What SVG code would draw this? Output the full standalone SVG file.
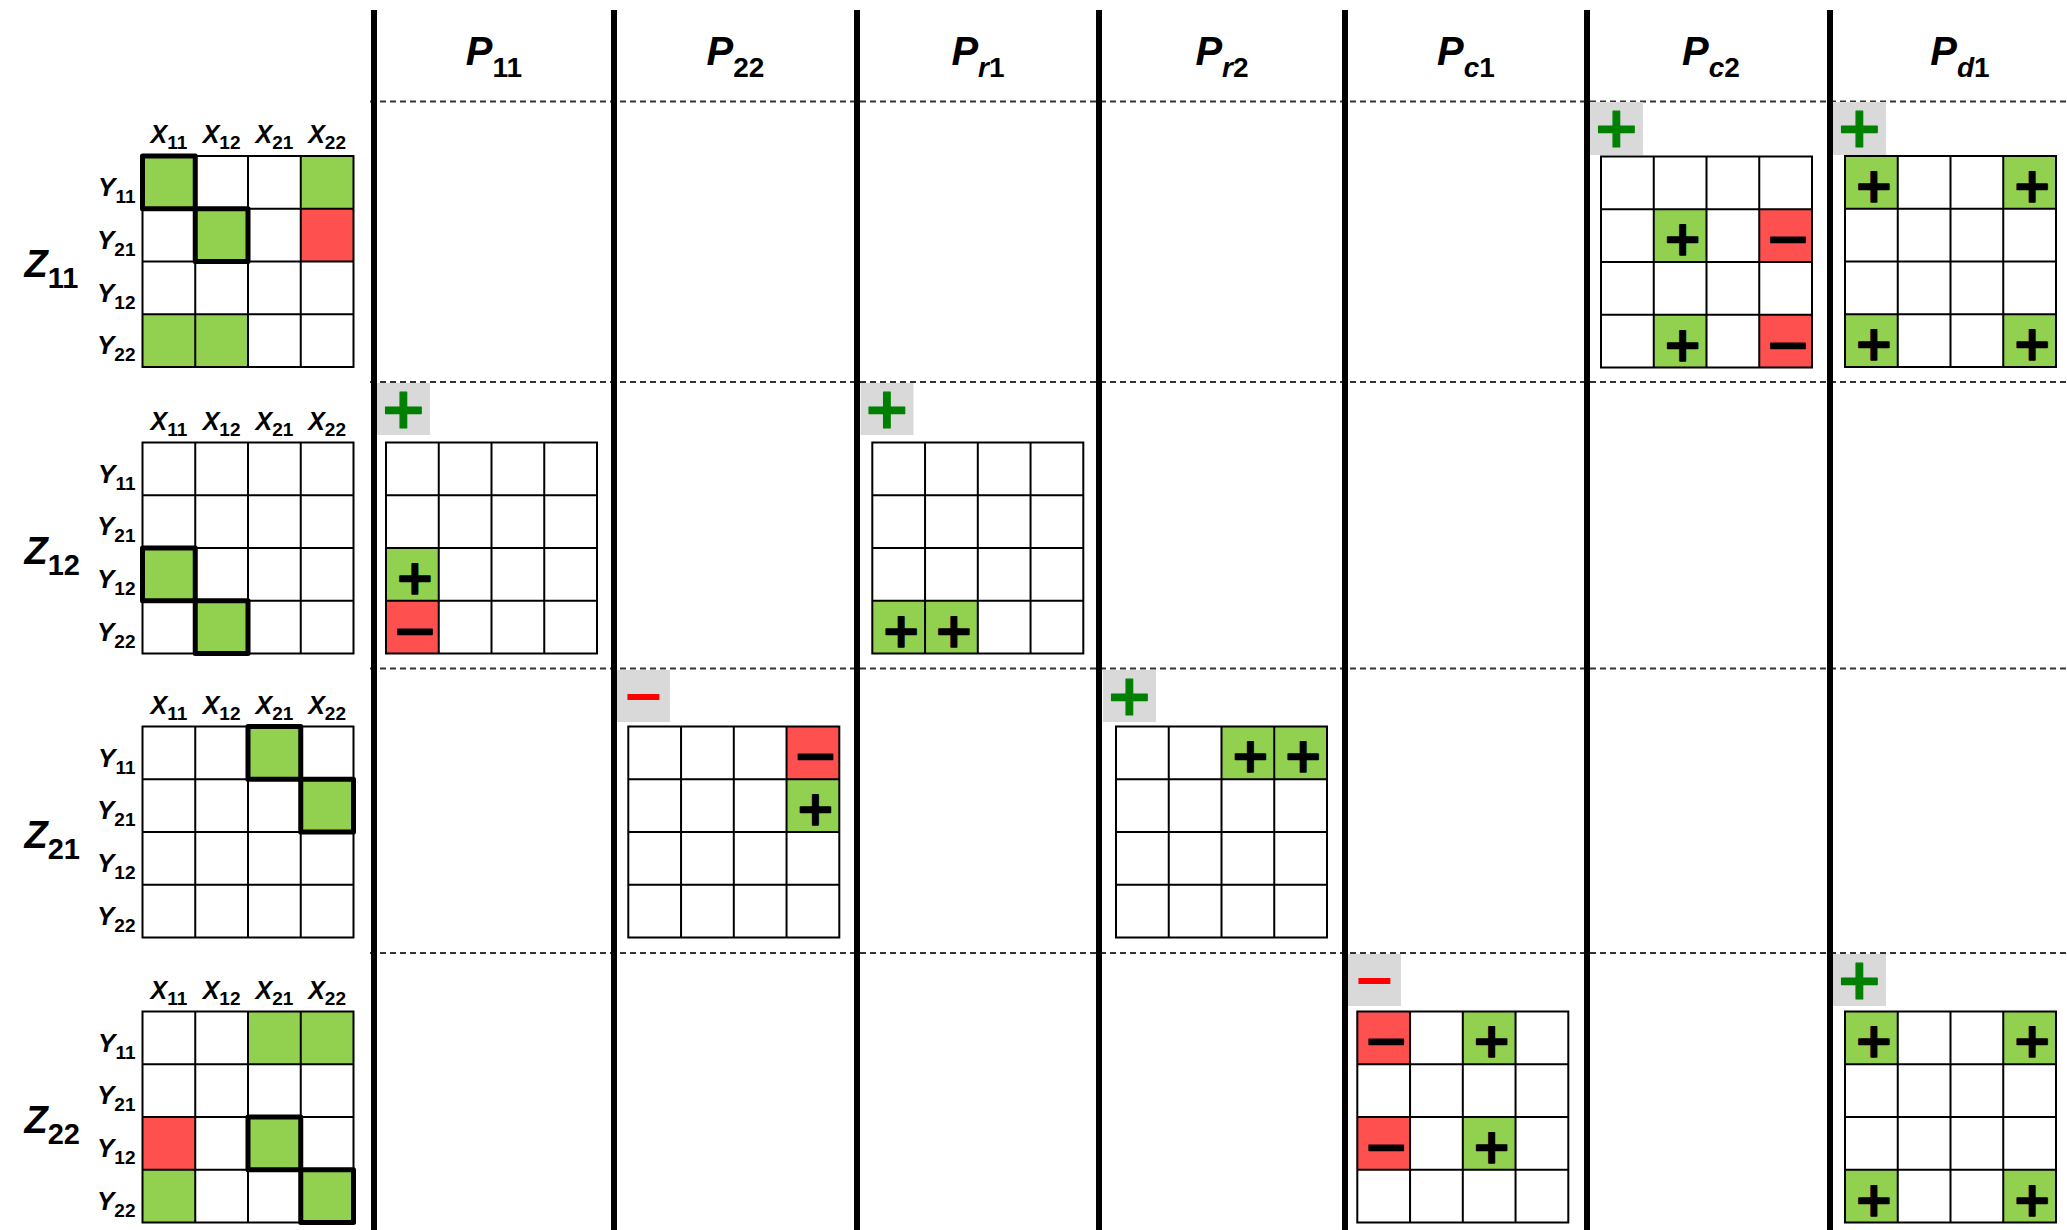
<svg xmlns="http://www.w3.org/2000/svg" xmlns:xlink="http://www.w3.org/1999/xlink" width="2067" height="1230" viewBox="0 0 2067 1230">
<style>
.vl{stroke:#000;stroke-width:6}
.dl{stroke:#333;stroke-width:2;stroke-dasharray:6 4}
.g{fill:#92D050}
.r{fill:#FF5050}
.hi{fill:none;stroke:#000;stroke-width:5;stroke-linejoin:round}
.gl{fill:none;stroke:#000;stroke-width:2}
.tag{fill:#D9D9D9}
text{font-family:'Liberation Sans',Arial,sans-serif;font-weight:bold}
.hd{font-size:40px;font-style:italic;text-anchor:middle}
.sb{font-style:normal;font-size:28px}
.it{font-style:italic}
.zl{font-size:38px;font-style:italic}
.zs{font-size:29px;font-style:normal}
.ax{font-size:25px;font-style:italic;text-anchor:middle}
.ay{font-size:26px;font-style:italic;text-anchor:end}
.as{font-size:19px;font-style:normal}
text.sp,text.sm,text.tp,text.tm{font-family:'DejaVu Sans',sans-serif;text-anchor:middle;stroke-linejoin:round}
.sp{font-size:48px;fill:#000;stroke:#000;stroke-width:1.4}
.sm{font-size:48px;fill:#000;stroke:#000;stroke-width:1.2}
.tp{font-size:57px;fill:#008000;stroke:#008000;stroke-width:1.2;stroke-linejoin:miter}
.tm{font-size:51px;fill:#FF0000}
</style>
<defs>
<g id="grid"><path class="gl" d="M0 0H211V211H0Z M52.75 0V211 M105.5 0V211 M158.25 0V211 M0 52.75H211 M0 105.5H211 M0 158.25H211"/></g>
<g id="xl">
<text class="ax" x="26.4" y="-13">X<tspan class="as" dy="6">11</tspan></text>
<text class="ax" x="79.1" y="-13">X<tspan class="as" dy="6">12</tspan></text>
<text class="ax" x="131.9" y="-13">X<tspan class="as" dy="6">21</tspan></text>
<text class="ax" x="184.6" y="-13">X<tspan class="as" dy="6">22</tspan></text>
</g>
<g id="yl">
<text class="ay" x="-7" y="40">Y<tspan class="as" dy="7">11</tspan></text>
<text class="ay" x="-7" y="92.75">Y<tspan class="as" dy="7">21</tspan></text>
<text class="ay" x="-7" y="145.5">Y<tspan class="as" dy="7">12</tspan></text>
<text class="ay" x="-7" y="198.25">Y<tspan class="as" dy="7">22</tspan></text>
</g>
</defs>
<rect width="2067" height="1230" fill="#fff"/>

<g id="separators">
<line class="dl" x1="370" y1="101.5" x2="2067" y2="101.5"/>
<line class="dl" x1="370" y1="382" x2="2067" y2="382"/>
<line class="dl" x1="370" y1="668.5" x2="2067" y2="668.5"/>
<line class="dl" x1="370" y1="953" x2="2067" y2="953"/>
<line class="vl" x1="374" y1="10" x2="374" y2="1230"/>
<line class="vl" x1="614" y1="10" x2="614" y2="1230"/>
<line class="vl" x1="857" y1="10" x2="857" y2="1230"/>
<line class="vl" x1="1099" y1="10" x2="1099" y2="1230"/>
<line class="vl" x1="1345" y1="10" x2="1345" y2="1230"/>
<line class="vl" x1="1587" y1="10" x2="1587" y2="1230"/>
<line class="vl" x1="1830" y1="10" x2="1830" y2="1230"/>
</g>

<g id="headers">
<text class="hd" x="494" y="65">P<tspan class="sb" dy="12">11</tspan></text>
<text class="hd" x="735.5" y="65">P<tspan class="sb" dy="12">22</tspan></text>
<text class="hd" x="978" y="65">P<tspan class="sb" dy="12"><tspan class="it">r</tspan>1</tspan></text>
<text class="hd" x="1222" y="65">P<tspan class="sb" dy="12"><tspan class="it">r</tspan>2</tspan></text>
<text class="hd" x="1466" y="65">P<tspan class="sb" dy="12"><tspan class="it">c</tspan>1</tspan></text>
<text class="hd" x="1711" y="65">P<tspan class="sb" dy="12"><tspan class="it">c</tspan>2</tspan></text>
<text class="hd" x="1960" y="65">P<tspan class="sb" dy="12"><tspan class="it">d</tspan>1</tspan></text>
</g>

<g id="Z11" transform="translate(142.5,156)">
<rect class="g" x="0" y="0" width="52.75" height="52.75"/>
<rect class="g" x="158.25" y="0" width="52.75" height="52.75"/>
<rect class="g" x="52.75" y="52.75" width="52.75" height="52.75"/>
<rect class="r" x="158.25" y="52.75" width="52.75" height="52.75"/>
<rect class="g" x="0" y="158.25" width="52.75" height="52.75"/>
<rect class="g" x="52.75" y="158.25" width="52.75" height="52.75"/>
<use xlink:href="#grid"/>
<rect class="hi" x="0" y="0" width="52.75" height="52.75"/>
<rect class="hi" x="52.75" y="52.75" width="52.75" height="52.75"/>
<use xlink:href="#xl"/><use xlink:href="#yl"/>
<text class="zl" x="-118" y="121">Z<tspan class="zs" dy="11">11</tspan></text>
</g>

<g id="Z12" transform="translate(142.5,442.5)">
<rect class="g" x="0" y="105.5" width="52.75" height="52.75"/>
<rect class="g" x="52.75" y="158.25" width="52.75" height="52.75"/>
<use xlink:href="#grid"/>
<rect class="hi" x="0" y="105.5" width="52.75" height="52.75"/>
<rect class="hi" x="52.75" y="158.25" width="52.75" height="52.75"/>
<use xlink:href="#xl"/><use xlink:href="#yl"/>
<text class="zl" x="-118" y="121">Z<tspan class="zs" dy="11">12</tspan></text>
</g>

<g id="Z21" transform="translate(142.5,726.5)">
<rect class="g" x="105.5" y="0" width="52.75" height="52.75"/>
<rect class="g" x="158.25" y="52.75" width="52.75" height="52.75"/>
<use xlink:href="#grid"/>
<rect class="hi" x="105.5" y="0" width="52.75" height="52.75"/>
<rect class="hi" x="158.25" y="52.75" width="52.75" height="52.75"/>
<use xlink:href="#xl"/><use xlink:href="#yl"/>
<text class="zl" x="-118" y="121">Z<tspan class="zs" dy="11">21</tspan></text>
</g>

<g id="Z22" transform="translate(142.5,1011.5)">
<rect class="g" x="105.5" y="0" width="52.75" height="52.75"/>
<rect class="g" x="158.25" y="0" width="52.75" height="52.75"/>
<rect class="r" x="0" y="105.5" width="52.75" height="52.75"/>
<rect class="g" x="105.5" y="105.5" width="52.75" height="52.75"/>
<rect class="g" x="0" y="158.25" width="52.75" height="52.75"/>
<rect class="g" x="158.25" y="158.25" width="52.75" height="52.75"/>
<use xlink:href="#grid"/>
<rect class="hi" x="105.5" y="105.5" width="52.75" height="52.75"/>
<rect class="hi" x="158.25" y="158.25" width="52.75" height="52.75"/>
<use xlink:href="#xl"/><use xlink:href="#yl"/>
<text class="zl" x="-118" y="121">Z<tspan class="zs" dy="11">22</tspan></text>
</g>

<g id="P11_Z12">
<rect class="tag" x="377" y="383" width="53" height="52"/>
<text class="tp" x="403.5" y="427.8">+</text>
<g transform="translate(386,442.5)">
<rect class="g" x="0" y="105.5" width="52.75" height="52.75"/>
<rect class="r" x="0" y="158.25" width="52.75" height="52.75"/>
<use xlink:href="#grid"/>
<text class="sp" x="28.9" y="151.2">+</text>
<text class="sm" x="28.9" y="204" textLength="46" lengthAdjust="spacingAndGlyphs">&#8722;</text>
</g>
</g>

<g id="Pr1_Z12">
<rect class="tag" x="860.5" y="383" width="53" height="52"/>
<text class="tp" x="887" y="427.8">+</text>
<g transform="translate(872.3,442.5)">
<rect class="g" x="0" y="158.25" width="52.75" height="52.75"/>
<rect class="g" x="52.75" y="158.25" width="52.75" height="52.75"/>
<use xlink:href="#grid"/>
<text class="sp" x="28.9" y="204">+</text>
<text class="sp" x="81.6" y="204">+</text>
</g>
</g>

<g id="P22_Z21">
<rect class="tag" x="617" y="670" width="53" height="52"/>
<text class="tm" x="643.5" y="712.8">&#8722;</text>
<g transform="translate(628.3,726.5)">
<rect class="r" x="158.25" y="0" width="52.75" height="52.75"/>
<rect class="g" x="158.25" y="52.75" width="52.75" height="52.75"/>
<use xlink:href="#grid"/>
<text class="sm" x="187.1" y="45.7" textLength="46" lengthAdjust="spacingAndGlyphs">&#8722;</text>
<text class="sp" x="187.1" y="98.5">+</text>
</g>
</g>

<g id="Pr2_Z21">
<rect class="tag" x="1103" y="670" width="53" height="52"/>
<text class="tp" x="1129.5" y="714.8">+</text>
<g transform="translate(1116,726.5)">
<rect class="g" x="105.5" y="0" width="52.75" height="52.75"/>
<rect class="g" x="158.25" y="0" width="52.75" height="52.75"/>
<use xlink:href="#grid"/>
<text class="sp" x="134.4" y="45.7">+</text>
<text class="sp" x="187.1" y="45.7">+</text>
</g>
</g>

<g id="Pc1_Z22">
<rect class="tag" x="1348" y="954" width="53" height="52"/>
<text class="tm" x="1374.5" y="996.8">&#8722;</text>
<g transform="translate(1357.3,1011.5)">
<rect class="r" x="0" y="0" width="52.75" height="52.75"/>
<rect class="g" x="105.5" y="0" width="52.75" height="52.75"/>
<rect class="r" x="0" y="105.5" width="52.75" height="52.75"/>
<rect class="g" x="105.5" y="105.5" width="52.75" height="52.75"/>
<use xlink:href="#grid"/>
<text class="sm" x="28.9" y="45.7" textLength="46" lengthAdjust="spacingAndGlyphs">&#8722;</text>
<text class="sp" x="134.4" y="45.7">+</text>
<text class="sm" x="28.9" y="151.2" textLength="46" lengthAdjust="spacingAndGlyphs">&#8722;</text>
<text class="sp" x="134.4" y="151.2">+</text>
</g>
</g>

<g id="Pc2_Z11">
<rect class="tag" x="1590" y="102" width="53" height="53"/>
<text class="tp" x="1616.5" y="146.8">+</text>
<g transform="translate(1601,156.5)">
<rect class="g" x="52.75" y="52.75" width="52.75" height="52.75"/>
<rect class="r" x="158.25" y="52.75" width="52.75" height="52.75"/>
<rect class="g" x="52.75" y="158.25" width="52.75" height="52.75"/>
<rect class="r" x="158.25" y="158.25" width="52.75" height="52.75"/>
<use xlink:href="#grid"/>
<text class="sp" x="81.6" y="98.5">+</text>
<text class="sm" x="187.1" y="98.5" textLength="46" lengthAdjust="spacingAndGlyphs">&#8722;</text>
<text class="sp" x="81.6" y="204">+</text>
<text class="sm" x="187.1" y="204" textLength="46" lengthAdjust="spacingAndGlyphs">&#8722;</text>
</g>
</g>

<g id="Pd1_Z11">
<rect class="tag" x="1833" y="102" width="53" height="53"/>
<text class="tp" x="1859.5" y="146.8">+</text>
<g transform="translate(1845,156)">
<rect class="g" x="0" y="0" width="52.75" height="52.75"/>
<rect class="g" x="158.25" y="0" width="52.75" height="52.75"/>
<rect class="g" x="0" y="158.25" width="52.75" height="52.75"/>
<rect class="g" x="158.25" y="158.25" width="52.75" height="52.75"/>
<use xlink:href="#grid"/>
<text class="sp" x="28.9" y="45.7">+</text>
<text class="sp" x="187.1" y="45.7">+</text>
<text class="sp" x="28.9" y="204">+</text>
<text class="sp" x="187.1" y="204">+</text>
</g>
</g>

<g id="Pd1_Z22">
<rect class="tag" x="1833" y="954" width="53" height="52"/>
<text class="tp" x="1859.5" y="998.8">+</text>
<g transform="translate(1845,1011.5)">
<rect class="g" x="0" y="0" width="52.75" height="52.75"/>
<rect class="g" x="158.25" y="0" width="52.75" height="52.75"/>
<rect class="g" x="0" y="158.25" width="52.75" height="52.75"/>
<rect class="g" x="158.25" y="158.25" width="52.75" height="52.75"/>
<use xlink:href="#grid"/>
<text class="sp" x="28.9" y="45.7">+</text>
<text class="sp" x="187.1" y="45.7">+</text>
<text class="sp" x="28.9" y="204">+</text>
<text class="sp" x="187.1" y="204">+</text>
</g>
</g>
</svg>
